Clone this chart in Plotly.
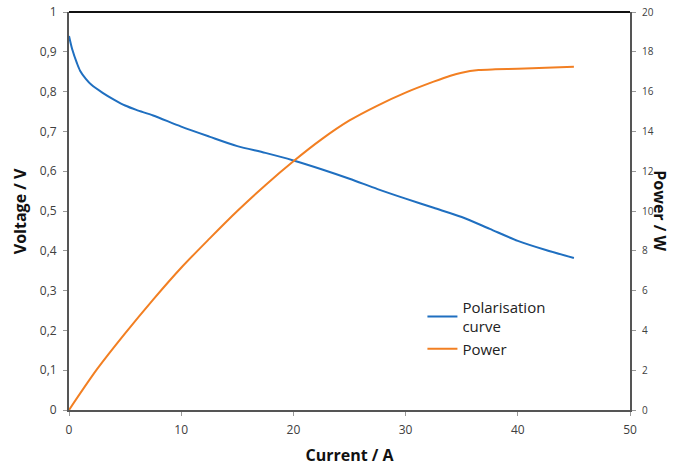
import plotly.graph_objects as go

current_v = [0, 0.3, 0.7, 1.0, 1.5, 2, 3, 4, 5, 6, 7.5, 10, 12.5, 15, 17.5, 20, 22.5, 25, 27.5, 30, 32.5, 35, 37.5, 40, 42.5, 45]
voltage = [0.94, 0.905, 0.872, 0.852, 0.832, 0.817, 0.797, 0.78, 0.765, 0.754, 0.74, 0.712, 0.687, 0.663, 0.646, 0.627, 0.605, 0.581, 0.555, 0.531, 0.508, 0.485, 0.455, 0.425, 0.402, 0.382]

current_p = [0, 2.5, 5, 7.5, 10, 12.5, 15, 17.5, 20, 22.5, 25, 27.5, 30, 32.5, 34, 35, 36.5, 38, 40, 42.5, 45]
power = [0, 2.05, 3.85, 5.55, 7.15, 8.6, 10.0, 11.3, 12.5, 13.6, 14.55, 15.3, 15.95, 16.5, 16.8, 16.95, 17.08, 17.12, 17.15, 17.2, 17.25]

font_family = "Open Sans, Liberation Sans, sans-serif"

fig = go.Figure()
fig.add_trace(go.Scatter(x=current_v, y=voltage, mode="lines", name="Polarisation<br>curve",
                         line=dict(color="#1F6FC0", width=2, shape="spline", smoothing=0.8)))
fig.add_trace(go.Scatter(x=current_p, y=power, mode="lines", name="Power", yaxis="y2",
                         line=dict(color="#F27F22", width=2, shape="spline", smoothing=0.8)))

tickfont = dict(family=font_family, size=12, color="#404040")
title_font = dict(family=font_family, size=16, color="#111111")
fig.update_layout(
    width=678, height=466,
    margin=dict(l=69, r=48, t=12, b=56, autoexpand=False),
    paper_bgcolor="white", plot_bgcolor="white",
    separators=",.",
    showlegend=True,
    legend=dict(x=0.63, y=0.30, xanchor="left", yanchor="top",
                font=dict(family=font_family, size=15, color="#222222"),
                bgcolor="rgba(0,0,0,0)", tracegroupgap=0, itemwidth=30),
    xaxis=dict(range=[0, 50], tickvals=[0, 10, 20, 30, 40, 50], showgrid=False, zeroline=False,
               automargin=False,
               showline=True, linecolor="#555555", linewidth=2, mirror=False,
               ticks="outside", ticklen=4, tickcolor="#999999", tickfont=tickfont,
               ticklabelstandoff=4,
               title=dict(text="<b>Current / A</b>", font=title_font, standoff=16)),
    yaxis=dict(range=[0, 1], tickvals=[0, 0.1, 0.2, 0.3, 0.4, 0.5, 0.6, 0.7, 0.8, 0.9, 1],
               automargin=False,
               showgrid=False, zeroline=False, showline=True, linecolor="#555555", linewidth=2,
               ticks="outside", ticklen=4, tickcolor="#999999", tickfont=tickfont,
               ticklabelstandoff=4),
    yaxis2=dict(range=[0, 20], tickvals=list(range(0, 21, 2)), overlaying="y", side="right",
                automargin=False,
                showgrid=False, zeroline=False, showline=True, linecolor="#555555", linewidth=2,
                ticks="outside", ticklen=4, tickcolor="#999999", ticklabelstandoff=4,
                tickfont=dict(family=font_family, size=10, color="#404040")),
    shapes=[dict(type="line", xref="paper", yref="paper", x0=0, x1=1, y0=1, y1=1,
                 line=dict(color="#111111", width=2))],
    annotations=[
        dict(text="<b>Voltage / V</b>", xref="paper", yref="paper", x=-0.087, y=0.5,
             xanchor="center", yanchor="middle", showarrow=False, textangle=-90, font=title_font),
        dict(text="<b>Power / W</b>", xref="paper", yref="paper", x=1.053, y=0.5,
             xanchor="center", yanchor="middle", showarrow=False, textangle=90, font=title_font),
    ],
)

fig.write_html("out.html", config={"displayModeBar": False},
               post_script="document.body.style.margin='0';")
